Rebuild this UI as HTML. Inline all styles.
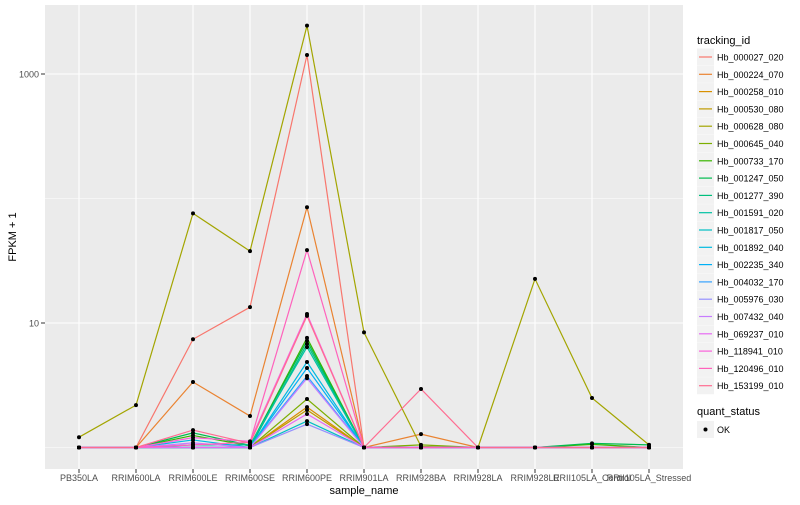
<!DOCTYPE html>
<html><head><meta charset="utf-8"><style>
body{margin:0;background:#fff;font-family:"Liberation Sans",sans-serif}
svg text{font-family:"Liberation Sans",sans-serif}
</style></head><body>
<svg id="c" width="800" height="500" xmlns="http://www.w3.org/2000/svg">
<rect x="45" y="5" width="638" height="464" fill="#EBEBEB"/>
<g id="grid"></g><g id="lines"></g><g id="pts"></g><g id="axes"></g><g id="legend"></g>
<text x="364" y="494" font-size="11" text-anchor="middle" fill="#000">sample_name</text>
<text transform="translate(16,237) rotate(-90)" font-size="11" text-anchor="middle" fill="#000">FPKM + 1</text>
</svg>
<script>
const categories=["PB350LA","RRIM600LA","RRIM600LE","RRIM600SE","RRIM600PE","RRIM901LA","RRIM928BA","RRIM928LA","RRIM928LE","RRII105LA_Control","RRII105LA_Stressed"];
const seriesIds=["Hb_000027_020","Hb_000224_070","Hb_000258_010","Hb_000530_080","Hb_000628_080","Hb_000645_040","Hb_000733_170","Hb_001247_050","Hb_001277_390","Hb_001591_020","Hb_001817_050","Hb_001892_040","Hb_002235_340","Hb_004032_170","Hb_005976_030","Hb_007432_040","Hb_069237_010","Hb_118941_010","Hb_120496_010","Hb_153199_010"];
const colors=["#F8766D","#EA8331","#D89000","#C09B00","#A3A500","#7CAE00","#39B600","#00BB4E","#00BF7D","#00C1A3","#00BFC4","#00BAE0","#00B0F6","#35A2FF","#9590FF","#C77CFF","#E76BF3","#FA62DB","#FF62BC","#FF6C91"];
const seriesValues=[
[1,1,7.4,13.4,1420,1,1,1,1,1,1],
[1,1,3.36,1.79,85,1,1.28,1,1,1,1],
[1,1,1,1,2.11,1,1,1,1,1,1],
[1,1,1,1,2.0,1,1,1,1,1,1],
[1.21,2.19,76,37.8,2444,8.4,1.02,1,22.6,2.5,1.05],
[1,1,1,1,2.45,1,1.05,1,1,1,1],
[1,1,1.25,1.03,7.6,1,1,1,1,1.06,1],
[1,1,1.31,1.04,7.2,1,1,1,1,1.08,1.05],
[1,1,1,1,6.8,1,1,1,1,1,1],
[1,1,1.05,1.05,6.4,1,1,1,1,1,1],
[1,1,1,1,1.63,1,1,1,1,1,1],
[1,1,1.15,1,4.86,1,1,1,1,1,1],
[1,1,1,1,4.35,1,1,1,1,1,1],
[1,1,1,1,3.75,1,1,1,1,1,1],
[1,1,1,1,1.54,1,1,1,1,1,1],
[1,1,1.09,1,3.6,1,1,1,1,1,1],
[1,1,1,1,1.86,1,1,1,1,1,1],
[1,1,1.2,1.12,11.8,1,1,1,1,1,1],
[1,1,1.05,1.1,38.5,1,1,1,1,1,1],
[1,1,1.38,1.08,11.4,1,2.95,1,1,1,1]];
const yTicks=[10,1000];
const yTickLabels=["10","1000"];
const yMinor=[1,100];
const NS="http://www.w3.org/2000/svg";
function xs(i){return 79+i*57;}
function ys(v){return 447.5-124.5*Math.log10(v);}
function mk(tag,attrs,parent){const e=document.createElementNS(NS,tag);for(const k in attrs)e.setAttribute(k,attrs[k]);document.getElementById(parent).appendChild(e);return e;}
yMinor.forEach(v=>{const l=mk('line',{x1:45,x2:683,y1:ys(v),y2:ys(v),stroke:'#fff','stroke-width':0.5},'grid');

});
yTicks.forEach((v,i)=>{const l=mk('line',{x1:45,x2:683,y1:ys(v),y2:ys(v),stroke:'#fff','stroke-width':1.1},'grid');


mk('line',{x1:41,x2:45,y1:ys(v),y2:ys(v),stroke:'#333'},'axes');
const t=mk('text',{x:39,y:ys(v)+3.5,'font-size':9,'text-anchor':'end',fill:'#4D4D4D'},'axes');t.textContent=yTickLabels[i];

});
categories.forEach((c,i)=>{const l=mk('line',{x1:xs(i),x2:xs(i),y1:5,y2:469,stroke:'#fff','stroke-width':1.1},'grid');


mk('line',{x1:xs(i),x2:xs(i),y1:469,y2:473,stroke:'#333'},'axes');
const t=mk('text',{x:xs(i),y:481,'font-size':9,'text-anchor':'middle',fill:'#4D4D4D'},'axes');t.textContent=c;

});
seriesValues.forEach((vals,s)=>{const p=mk('polyline',{points:vals.map((v,i)=>xs(i)+','+ys(v)).join(' '),fill:'none',stroke:colors[s],'stroke-width':1.2},'lines');


vals.forEach((v,i)=>{const c=mk('circle',{cx:xs(i),cy:ys(v),r:2,fill:'#000'},'pts');

});});
let t=mk('text',{x:697,y:44,'font-size':11,fill:'#000'},'legend');t.textContent='tracking_id';


seriesIds.forEach((id,i)=>{const y=57+i*17.3;
mk('rect',{x:697,y:y-8.5,width:17,height:17,fill:'#F2F2F2'},'legend');
mk('line',{x1:699,x2:712,y1:y,y2:y,stroke:colors[i],'stroke-width':1.2},'legend');
const tx=mk('text',{x:717,y:y+3.5,'font-size':9,fill:'#000'},'legend');tx.textContent=id;

});
t=mk('text',{x:697,y:415,'font-size':11,fill:'#000'},'legend');t.textContent='quant_status';


mk('rect',{x:697,y:421,width:17,height:17,fill:'#F2F2F2'},'legend');
mk('circle',{cx:705.5,cy:429.5,r:2,fill:'#000'},'legend');
t=mk('text',{x:717,y:433,'font-size':9,fill:'#000'},'legend');t.textContent='OK';


</script>
</body></html>
